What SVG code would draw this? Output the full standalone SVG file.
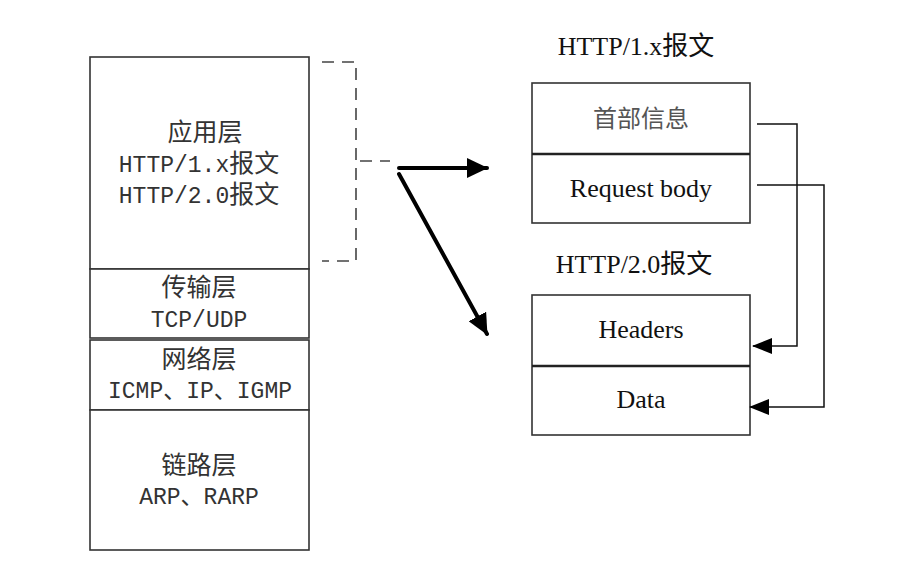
<svg xmlns="http://www.w3.org/2000/svg" width="910" height="577" viewBox="0 0 910 577">
<style>
.box{fill:#fff;stroke:#333;stroke-width:1.6}
.div{stroke:#222;stroke-width:2.6}
.mono{font-family:"Liberation Mono","Noto Sans CJK SC",monospace;font-size:23px;fill:#333;text-anchor:middle}
.cjk{font-size:25px}
.serif{font-family:"Liberation Serif","Noto Sans CJK SC",serif;font-size:26px;fill:#111;text-anchor:middle}
.dash{fill:none;stroke:#444;stroke-width:1.6;stroke-dasharray:12 8}
.thick{stroke:#000;stroke-width:4;fill:none;stroke-linecap:round}
.thin{stroke:#111;stroke-width:1.5;fill:none}
</style>
<defs>
<marker id="big" markerUnits="userSpaceOnUse" markerWidth="22" markerHeight="20" refX="20" refY="10" orient="auto">
<path d="M0,0 L21,10 L0,20 Z" fill="#000"/>
</marker>
<marker id="small" markerUnits="userSpaceOnUse" markerWidth="20" markerHeight="16" refX="19" refY="8" orient="auto">
<path d="M0,0 L20,8 L0,16 Z" fill="#000"/>
</marker>
</defs>
<rect width="910" height="577" fill="#fff"/>
<g id="app">
<rect class="box" x="90" y="57" width="219" height="212"/>
<text class="mono cjk" x="205" y="141">应用层</text>
<text class="mono" x="199" y="172">HTTP/1.x<tspan class="cjk">报文</tspan></text>
<text class="mono" x="199" y="203">HTTP/2.0<tspan class="cjk">报文</tspan></text>
</g>
<g id="transport">
<rect class="box" x="90" y="269" width="219" height="69"/>
<text class="mono cjk" x="199" y="296">传输层</text>
<text class="mono" x="199" y="327">TCP/UDP</text>
</g>
<g id="network">
<rect class="box" x="90" y="340" width="219" height="70"/>
<text class="mono cjk" x="199" y="368">网络层</text>
<text class="mono" x="200" y="398">ICMP、IP、IGMP</text>
</g>
<g id="link">
<rect class="box" x="90" y="410" width="219" height="140"/>
<text class="mono cjk" x="199" y="474">链路层</text>
<text class="mono" x="199" y="504">ARP、RARP</text>
</g>
<g id="http1">
<text class="serif" x="636" y="55">HTTP/1.x报文</text>
<rect class="box" x="532" y="83" width="218" height="140"/>
<line class="div" x1="532" y1="154" x2="750" y2="154"/>
<text class="serif" x="641" y="127" style="font-size:24px;fill:#555">首部信息</text>
<text class="serif" x="641" y="197">Request body</text>
</g>
<g id="http2">
<text class="serif" x="634" y="273">HTTP/2.0报文</text>
<rect class="box" x="532" y="295" width="218" height="140"/>
<line class="div" x1="532" y1="366" x2="750" y2="366"/>
<text class="serif" x="641" y="338">Headers</text>
<text class="serif" x="641" y="408">Data</text>
</g>
<g id="connectors">
<path class="dash" d="M322,62 H356 V261 H322"/>
<path class="dash" d="M360,161 H390" stroke-dasharray="11 7"/>
<line class="thick" x1="399" y1="168" x2="487" y2="168" marker-end="url(#big)"/>
<line class="thick" x1="399" y1="174" x2="487" y2="334" marker-end="url(#big)"/>
<path class="thin" d="M757,124 H797 V346 H753" marker-end="url(#small)"/>
<path class="thin" d="M757,185 H824 V407 H750" marker-end="url(#small)"/>
</g>
</svg>
